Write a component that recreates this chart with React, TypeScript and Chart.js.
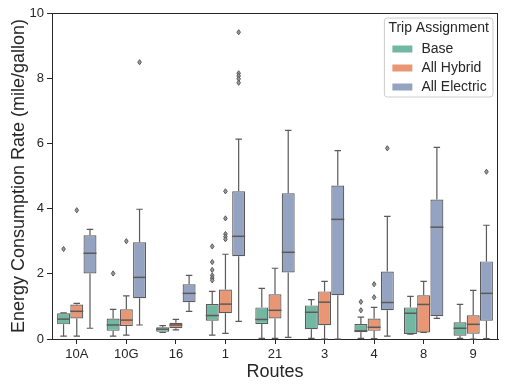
import React, { useEffect, useRef } from 'react';
import { Chart, registerables } from 'chart.js';

Chart.register(...registerables);

const routes = ['10A', '10G', '16', '1', '21', '3', '4', '8', '9'];
const seriesNames = ['Base', 'All Hybrid', 'All Electric'];
const seriesColors = ['#72b7a1', '#e99675', '#95a3c3'];
const yTicks = [0, 2, 4, 6, 8, 10];

// [whiskerLow, q1, median, q3, whiskerHigh]
const baseStats = [
  [0.09, 0.45, 0.61, 0.79, 0.8],
  [0.09, 0.25, 0.43, 0.63, 0.91],
  [0.2, 0.22, 0.3, 0.36, 0.41],
  [0.12, 0.56, 0.72, 1.07, 1.46],
  [0.02, 0.46, 0.6, 0.97, 1.55],
  [0.02, 0.3, 0.82, 1.03, 1.21],
  [0.02, 0.21, 0.25, 0.46, 0.67],
  [0.15, 0.15, 0.79, 0.97, 1.31],
  [0.02, 0.1, 0.33, 0.51, 1.06],
];
const hybridStats = [
  [0.09, 0.63, 0.85, 1.06, 1.09],
  [0.12, 0.4, 0.58, 0.91, 1.32],
  [0.28, 0.33, 0.43, 0.5, 0.6],
  [0.17, 0.79, 1.07, 1.52, 2.6],
  [0.02, 0.63, 0.88, 1.37, 2.17],
  [0.0, 0.42, 1.13, 1.46, 1.77],
  [0.01, 0.25, 0.36, 0.63, 0.97],
  [0.2, 0.2, 1.06, 1.34, 1.77],
  [0.0, 0.16, 0.45, 0.73, 1.49],
];
const electricStats = [
  [0.33, 2.01, 2.63, 3.18, 3.36],
  [0.43, 1.25, 1.89, 2.97, 3.98],
  [0.85, 1.13, 1.4, 1.68, 1.95],
  [0.54, 2.54, 3.15, 4.53, 6.13],
  [0.05, 2.04, 2.66, 4.47, 6.4],
  [0.0, 1.34, 3.67, 4.71, 5.78],
  [0.09, 0.88, 1.12, 2.07, 3.76],
  [0.63, 0.7, 3.43, 4.28, 5.88],
  [0.01, 0.56, 1.4, 2.38, 3.49],
];
const baseOutliers = [[2.76], [2.01], [], [2.84, 2.36, 2.12, 1.95, 1.87, 1.8], [], [], [1.14, 0.88], [], []];
const hybridOutliers = [[3.95], [3.0], [], [4.53, 3.7, 3.22, 3.14, 3.06], [], [], [1.68, 1.28], [], []];
const electricOutliers = [[], [8.49], [], [9.41, 8.15, 8.07, 7.98, 7.86], [], [], [5.85], [], [5.13]];

const allStats = [baseStats, hybridStats, electricStats];
const allOutliers = [baseOutliers, hybridOutliers, electricOutliers];

const FONT = '"Liberation Sans", Arial, sans-serif';
const EDGE = '#5a5a5a';
const AXIS = '#262626';

const boxPlugin = {
  id: 'boxExtras',
  beforeDatasetsDraw(chart: any) {
    const ctx = chart.ctx;
    const y = chart.scales.y;
    ctx.save();
    ctx.strokeStyle = EDGE;
    ctx.lineWidth = 1.2;
    chart.data.datasets.forEach((_ds: any, di: number) => {
      const meta = chart.getDatasetMeta(di);
      meta.data.forEach((bar: any, i: number) => {
        const { x, width } = bar.getProps(['x', 'width'], true);
        const [lo, q1, , q3, hi] = allStats[di][i];
        const cap = width * 0.25;
        ctx.beginPath();
        ctx.moveTo(x, y.getPixelForValue(q3));
        ctx.lineTo(x, y.getPixelForValue(hi));
        ctx.moveTo(x - cap, y.getPixelForValue(hi));
        ctx.lineTo(x + cap, y.getPixelForValue(hi));
        ctx.moveTo(x, y.getPixelForValue(q1));
        ctx.lineTo(x, y.getPixelForValue(lo));
        ctx.moveTo(x - cap, y.getPixelForValue(lo));
        ctx.lineTo(x + cap, y.getPixelForValue(lo));
        ctx.stroke();
      });
    });
    ctx.restore();
  },
  afterDatasetsDraw(chart: any) {
    const ctx = chart.ctx;
    const y = chart.scales.y;
    ctx.save();
    chart.data.datasets.forEach((_ds: any, di: number) => {
      const meta = chart.getDatasetMeta(di);
      meta.data.forEach((bar: any, i: number) => {
        const { x, width } = bar.getProps(['x', 'width'], true);
        const med = allStats[di][i][2];
        ctx.strokeStyle = EDGE;
        ctx.lineWidth = 1.5;
        ctx.beginPath();
        ctx.moveTo(x - width / 2, y.getPixelForValue(med));
        ctx.lineTo(x + width / 2, y.getPixelForValue(med));
        ctx.stroke();
        allOutliers[di][i].forEach((v: number) => {
          const py = y.getPixelForValue(v);
          ctx.beginPath();
          ctx.moveTo(x, py - 2.6);
          ctx.lineTo(x + 1.8, py);
          ctx.lineTo(x, py + 2.6);
          ctx.lineTo(x - 1.8, py);
          ctx.closePath();
          ctx.fillStyle = '#9a9a9a';
          ctx.fill();
          ctx.lineWidth = 1;
          ctx.strokeStyle = EDGE;
          ctx.stroke();
        });
      });
    });
    ctx.restore();
  },
  afterDraw(chart: any) {
    const ctx = chart.ctx;
    const a = chart.chartArea;
    ctx.save();
    // top & right spines
    ctx.strokeStyle = AXIS;
    ctx.lineWidth = 1;
    ctx.beginPath();
    ctx.moveTo(a.left, a.top + 0.5);
    ctx.lineTo(a.right, a.top + 0.5);
    ctx.moveTo(a.right - 0.5, a.top);
    ctx.lineTo(a.right - 0.5, a.bottom);
    ctx.stroke();

    // legend
    ctx.font = `14px ${FONT}`;
    const title = 'Trip Assignment';
    const titleW = ctx.measureText(title).width;
    const itemW = Math.max(...seriesNames.map((n) => ctx.measureText(n).width));
    const w = Math.max(titleW + 8, 37 + itemW + 6);
    const h = 79;
    const right = a.right - 5;
    const left = right - w;
    const top = a.top + 5;
    ctx.beginPath();
    const r = 3;
    ctx.moveTo(left + r, top);
    ctx.lineTo(right - r, top);
    ctx.arcTo(right, top, right, top + r, r);
    ctx.lineTo(right, top + h - r);
    ctx.arcTo(right, top + h, right - r, top + h, r);
    ctx.lineTo(left + r, top + h);
    ctx.arcTo(left, top + h, left, top + h - r, r);
    ctx.lineTo(left, top + r);
    ctx.arcTo(left, top, left + r, top, r);
    ctx.closePath();
    ctx.fillStyle = 'rgba(255,255,255,0.8)';
    ctx.fill();
    ctx.strokeStyle = '#cccccc';
    ctx.lineWidth = 1;
    ctx.stroke();

    ctx.fillStyle = AXIS;
    ctx.textBaseline = 'middle';
    ctx.textAlign = 'center';
    ctx.fillText(title, (left + right) / 2, top + 10.5);
    ctx.textAlign = 'left';
    seriesNames.forEach((n, i) => {
      const cy = top + 31 + 19 * i;
      ctx.fillStyle = seriesColors[i];
      ctx.fillRect(left + 8, cy - 3.5, 20, 7);
      ctx.fillStyle = AXIS;
      ctx.fillText(n, left + 37, cy + 0.5);
    });
    ctx.restore();
  },
};

export default function App() {
  const ref = useRef<HTMLCanvasElement>(null);
  useEffect(() => {
    if (!ref.current) return;
    const chart = new Chart(ref.current, {
      type: 'bar',
      data: {
        labels: routes,
        datasets: seriesNames.map((name, di) => ({
          label: name,
          data: allStats[di].map((s) => [s[1], s[3]]),
          backgroundColor: seriesColors[di],
          borderColor: EDGE,
          borderWidth: 1.2,
          borderSkipped: false,
          categoryPercentage: 0.8,
          barPercentage: 0.98,
        })),
      } as any,
      options: {
        animation: false,
        responsive: false,
        layout: { padding: { top: 13, right: 7, left: 0, bottom: 0 } },
        plugins: { legend: { display: false }, tooltip: { enabled: false } },
        scales: {
          x: {
            offset: true,
            grid: { display: true, drawOnChartArea: false, offset: false, tickLength: 5, tickColor: AXIS, color: AXIS },
            border: { display: true, color: AXIS, width: 1 },
            ticks: { color: AXIS, font: { family: FONT, size: 13 }, padding: 3, maxRotation: 0 },
            title: { display: true, text: 'Routes', color: AXIS, font: { family: FONT, size: 18 }, padding: { top: 0, bottom: 6 } },
            afterFit: (s: any) => { s.height = 50; },
          },
          y: {
            min: 0,
            max: 10,
            afterBuildTicks: (s: any) => { s.ticks = yTicks.map((v) => ({ value: v })); },
            grid: { display: true, drawOnChartArea: false, tickLength: 5, tickColor: AXIS, color: AXIS },
            border: { display: true, color: AXIS, width: 1 },
            ticks: { color: AXIS, font: { family: FONT, size: 13 }, padding: 3, callback: (v: any) => String(v) },
            title: { display: true, text: 'Energy Consumption Rate (mile/gallon)', color: AXIS, font: { family: FONT, size: 18 }, padding: { top: 8, bottom: 0 } },
            afterFit: (s: any) => { s.width = 52; },
          },
        },
      } as any,
      plugins: [boxPlugin],
    });
    return () => chart.destroy();
  }, []);
  return (
    <div style={{ position: 'absolute', left: 0, top: 0, width: 505, height: 389, background: '#fff' }}>
      <canvas ref={ref} width={505} height={389} />
    </div>
  );
}
